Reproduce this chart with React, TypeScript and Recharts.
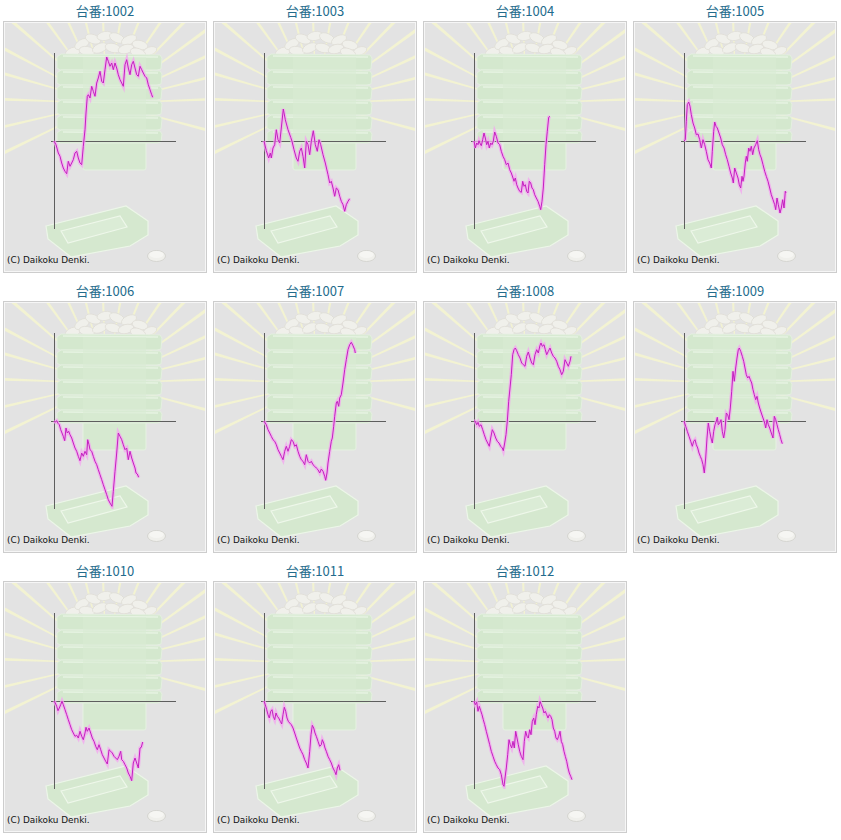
import React from 'react';
import { LineChart, Line, XAxis, YAxis, ReferenceLine } from 'recharts';

type Pt = [number, number];

// Machine numbers shown above each panel
const machineIds = ['1002', '1003', '1004', '1005', '1006', '1007', '1008', '1009', '1010', '1011', '1012'];
const titlePrefix = '台番:';
const copyright = '(C) Daikoku Denki.';

// Each series: [game position, medal balance] pairs (arbitrary units)
const m1002: Pt[] = [[0,0],[2,-3.7],[4.3,-12],[6,-15.3],[7.7,-22],[9.3,-27],[11,-30.3],[12.7,-32.7],[14.3,-20.3],[16,-25.3],[17.7,-22],[19.3,-18.7],[21,-12],[22.7,-10.3],[24.3,-17],[26,-22],[27.7,-23.7],[29.3,-5.3],[31,11.3],[32,28],[33.3,44.7],[34.3,46.3],[36,43],[37.7,54.7],[39.3,49.7],[41,44.7],[42.7,58],[44.3,63],[46,69.7],[47.7,59.7],[49.3,58],[51,71.3],[52.7,84],[54.3,79.7],[56,74.7],[57.7,78],[59.3,71.3],[61,78],[62.7,73],[64.3,66.3],[66,61.3],[67.7,58],[69.3,54.7],[71,76.3],[72.7,81.3],[74.3,73],[76,66.3],[77.7,76.3],[79.3,79.7],[81,73],[82.7,66.3],[84.3,64.7],[86,74.7],[87.7,71.3],[89.3,68],[91,64.7],[92.7,63],[94.3,56.3],[96,51.3],[97.7,46.3],[98.7,43.7]];
const m1003: Pt[] = [[0,0],[2.3,-9.7],[4.7,-17],[6.3,-12],[7.3,-17],[9,-7],[10.7,-3.7],[12.3,11.3],[14,1.3],[15.7,-2],[17.3,13],[19.3,32],[21.3,21.3],[24,11.3],[26.7,3.7],[28,-0.3],[30,-8.7],[32.3,-17],[34,-20.3],[35.7,-10.3],[37.3,-7],[39,-15.3],[40.7,-27],[42.3,-0.3],[44,-3.7],[45.7,-13.7],[47.3,-0.3],[49.3,10.3],[51.3,-3.7],[53.3,-10.3],[55,1.3],[56.7,-3.7],[59,-13.7],[61.3,-22],[64,-33.7],[65.7,-42],[67.3,-40.3],[69,-47],[70.7,-55.3],[72.3,-47],[74,-48.7],[75.7,-55.3],[77.3,-60.3],[79,-63.7],[80.7,-70.3],[82.3,-63.7],[84,-60.3],[85.7,-57.7]];
const m1004: Pt[] = [[0,0],[1.3,-7],[2.7,-2],[4,-3.7],[5,0.3],[6.3,-3],[7.3,-4.7],[8.7,1.3],[10,8],[11.3,3],[12.7,-3.7],[14,-0.3],[15.3,-7],[16.7,-2],[18,-3.7],[19.3,-0.3],[20.7,9],[22.3,4.7],[24,-2],[25.7,-3.7],[27.3,-10.3],[29,-15.3],[30.7,-18.7],[32.3,-23.7],[34,-22],[35.7,-28.7],[37.3,-32],[39,-37],[40,-40.3],[41.3,-37],[42.7,-43.7],[44,-47],[45.7,-50.3],[47.3,-51.3],[48.7,-40.3],[50,-45.3],[51.3,-43.7],[52.7,-50.3],[54,-52],[55.3,-40.3],[56.7,-42],[58,-47],[59.3,-48.7],[60.7,-53.7],[62.3,-57],[64,-60.3],[65.7,-65.3],[66.7,-68.7],[68,-60.3],[69.3,-47],[70.7,-23.7],[72,-3.7],[73.3,9.7],[74.7,23.7],[76,24.7]];
const m1005: Pt[] = [[0,0],[1.3,1.3],[2.3,19.7],[3.3,36.3],[4.7,39],[6,34.7],[7.3,26.3],[9,18],[10.7,13],[12.3,6.3],[14,7],[15.7,1.3],[17.3,-7],[19,1.3],[20.7,-3.7],[22.3,-10.3],[24,-18.7],[25.7,-22],[27.3,-27],[28.3,-10.3],[29.7,9.7],[30.7,19],[32,14.7],[33.3,13],[35,8],[36.7,3],[38.3,-3.7],[40,-7],[41.7,-13.7],[43.3,-18.7],[45,-25.3],[46.7,-32],[48.3,-37],[49.3,-42],[50.7,-27],[52.3,-32],[54,-37],[55.3,-43.7],[56.7,-47],[58,-35.3],[59,-40.3],[60,-35.3],[61.3,-22],[62.3,-15.3],[63.3,-20.3],[64.7,-7],[66,-10.3],[67.3,-5.3],[68.7,-13.7],[70,-7],[71.7,-3.7],[73.3,0.3],[74.7,-8.7],[76,-13.7],[77.3,-17],[79,-23.7],[80.7,-30.3],[82.3,-35.3],[84,-40.3],[85.7,-47],[87.3,-53.7],[89,-58.7],[90.7,-63.7],[91.7,-68.7],[93,-57],[94.3,-63.7],[96,-72],[97.3,-67],[98.7,-58.7],[100,-67],[101.3,-50.3],[102,-52]];
const m1006: Pt[] = [[0,0],[1.3,-1],[2.7,0.3],[4,-2.3],[5.3,-3.7],[6.7,-8.7],[8,-12],[9.3,-15.3],[10.7,-19.7],[12,-7],[13.3,-12],[14.7,-10.3],[16,-13.7],[17.7,-17],[19.3,-22],[21,-27],[22.7,-30.3],[24.3,-35.3],[26,-39.7],[27.7,-32],[29.3,-35.3],[31,-30.3],[32.7,-33.7],[33.7,-18.7],[35,-23.7],[36,-28.7],[37.7,-30.3],[39.3,-35.3],[41,-40.3],[42.7,-43.7],[44.3,-48.7],[46,-53.7],[47.7,-58.7],[49.3,-63.7],[51,-68.7],[52.7,-73.7],[54.3,-78.7],[56,-82],[58,-85.3],[59.3,-70.3],[61,-50.3],[62.7,-32],[64.3,-12],[66,-15.3],[67.7,-18.7],[69.3,-23.7],[71,-28.7],[72.7,-27],[74.3,-38.7],[76,-30.3],[77.7,-37],[79.3,-42],[81,-47],[82,-52],[83.3,-53],[84.7,-56.3]];
const m1007: Pt[] = [[0,0],[2.3,-3.7],[4,-8.7],[5.7,-12],[7.3,-15.3],[9,-18.7],[10.7,-20.3],[12.3,-23.7],[14,-28.7],[15.7,-32],[17.3,-35.3],[19,-38.7],[20.7,-30.3],[22.3,-25.3],[24,-30.3],[25.7,-25.3],[27.3,-18.7],[29,-20.3],[30.7,-25.3],[32.3,-23.7],[34,-30.3],[35.7,-35.3],[37.3,-38.7],[39,-40.3],[40.7,-43.7],[42.3,-33.7],[44,-40.3],[45.7,-42],[47.3,-40.3],[49,-43.7],[50.7,-45.3],[52.3,-47],[54,-48.7],[55.7,-52],[57.3,-48],[59,-50.3],[60.7,-55.3],[61.7,-59.3],[63,-52],[64,-42],[65.7,-30.3],[67.3,-20.3],[68.3,-17],[69.7,-5.3],[70.7,4.7],[72.3,18],[73.3,19.7],[74.7,14.7],[75.7,23],[77.3,26.3],[79,38],[80.7,51.3],[82.3,61.3],[84,71.3],[85.7,76.3],[87.3,78.7],[89,75.3],[90.7,71.3],[91.3,68]];
const m1008: Pt[] = [[0,0],[1.3,-0.3],[2.7,-3.7],[4,-1.3],[5.3,-5.3],[7,-3.7],[8.7,-8.7],[10.3,-13.7],[12,-18.7],[13.7,-22],[15.3,-25.3],[16.7,-17],[18.3,-8.7],[20,-12],[21.7,-17],[23.3,-20.3],[25,-22],[26.7,-25.3],[28.3,-27],[29.3,-29.7],[30.7,-22],[32,-13.7],[33.3,-0.3],[34.7,19.7],[36,33],[37.3,46.3],[38.7,66.3],[40,71.3],[41.3,73],[42.7,70.3],[44.3,66.3],[46,63],[47.7,58],[49.3,56.3],[51,54.7],[52.7,64.7],[54.3,69],[56,63],[57.7,58],[59.3,56.3],[61,66.3],[62.7,71.3],[64.3,68],[66,75.7],[67,78],[68.3,74.7],[70,76.3],[71.3,71.3],[72.7,66.3],[74.3,69.7],[76,73],[77.7,68],[79.3,64.7],[81,63],[82.7,59.7],[84.3,54.7],[86,51.3],[87.7,46.3],[89.3,49.7],[91,61.3],[92.7,58],[94.3,54.7],[96,59.7],[97,64.7]];
const m1009: Pt[] = [[0,0],[1.7,-5.3],[3.3,-10.3],[5,-15.3],[6.7,-20.3],[8.3,-25.3],[9.7,-20.3],[11,-18.7],[12.3,-23.7],[13.7,-27],[15,-32],[16.3,-35.3],[17.7,-38.7],[19,-43.7],[20.3,-52],[21.7,-37],[23,-17],[24.3,-2],[25.7,-10.3],[27,-17],[28.3,-22],[29.7,-10.3],[31,-3.7],[32.3,-0.3],[33.3,3.7],[34.3,-3.7],[35.7,-2],[37,1.3],[38.3,-10.3],[39.7,-17],[41,-8.7],[42.3,8],[43.7,6.3],[45,1.3],[46.3,13],[47.7,29.7],[49,49.7],[50.3,39.7],[51.7,53],[53,63],[54.3,71.3],[55.3,73],[56.7,69.7],[58.3,64.7],[59.7,59.7],[61,53],[62.3,46.3],[63.7,43],[65,44.7],[66.3,41.3],[67.7,38],[69,31.3],[70.3,26.3],[71.7,21.3],[73,24.7],[74.3,18],[75.7,13],[77.3,8],[79,3],[80.7,-2],[81.7,-7],[83,1.3],[84.3,-3.7],[85.7,-7],[87.3,-12],[89,-17],[90.3,4.7],[91.7,1.3],[93,-3.7],[94.3,-8.7],[95.7,-13.7],[97,-18.7],[98.3,-22.7]];
const m1010: Pt[] = [[0,0],[1.3,-2],[2.7,-5.3],[4,-9.7],[5.3,-7],[6.7,-3.7],[8,-0.3],[9.3,-3.7],[11,-8.7],[12.7,-13.7],[14.3,-18.7],[16,-23.7],[17.7,-28.7],[19.3,-32],[21,-35.3],[22.7,-34.3],[24.3,-37],[26,-30.3],[27.7,-35.3],[29.3,-38.7],[31,-32],[32,-26.3],[33.3,-30.3],[35,-27],[36.7,-32],[38.3,-37],[40,-40.3],[41.7,-45.3],[43.3,-48.7],[45,-43.7],[46.7,-48.7],[48.3,-53.7],[50,-57],[51.7,-60.3],[53.3,-63],[55,-48.7],[56.7,-50.3],[58.3,-52],[60,-55.3],[61.7,-57],[63.3,-58.7],[65,-55.3],[66.7,-50.3],[67.7,-58.7],[69.3,-60.3],[71,-63.7],[72.7,-67],[74.3,-72],[76,-75.3],[77.7,-79.7],[79.3,-62],[81,-57],[82.7,-62],[84.3,-67],[86,-47],[87.3,-46.3],[88.7,-41]];
const m1011: Pt[] = [[0,0],[1.3,-3.7],[2.7,-8.7],[4,-13.7],[5.3,-17],[6.7,-10.3],[8,-8.7],[9.3,-15.3],[10.7,-18.7],[12,-12],[13.3,-15.3],[14.7,-17],[16.3,-20.3],[17.7,-23],[19,-13.7],[20.3,-6.3],[21.7,-10.3],[23,-17],[24.3,-20.3],[25.7,-22],[27.3,-23.7],[29,-27],[30.7,-32],[32.3,-37],[34,-42],[35.7,-47],[37.3,-50.3],[39,-53.7],[40.7,-58.7],[42.3,-62],[44,-67],[45.7,-50.3],[47,-33.7],[48.3,-24.3],[49.7,-27],[51,-32],[52.3,-35.3],[54,-40.3],[55.7,-45.3],[57.3,-43.7],[58.3,-38.7],[59.7,-42],[61,-47],[62.3,-50.3],[64,-55.3],[65.7,-58.7],[67.3,-62],[69,-67],[70.7,-70.3],[72,-73.7],[73.3,-67],[74.7,-63.7],[76,-69.3]];
const m1012: Pt[] = [[0,0],[1.3,-3.7],[2.7,-1],[4,-10.3],[5.3,-5.3],[6.7,-9.7],[8,-13.7],[9.3,-18.7],[10.7,-23.7],[12.3,-30.3],[14,-37],[15.7,-43.7],[17.3,-50.3],[19,-55.3],[20.7,-60.3],[22.3,-63.7],[24,-67],[25.7,-68.7],[27.3,-73.7],[29,-83.7],[30,-85.3],[31,-77],[32.3,-67],[33.7,-53.7],[35,-38.7],[36.3,-43.7],[37.7,-47],[39,-40.3],[40.3,-47],[41.7,-30.3],[43,-37],[44.3,-43.7],[45.7,-50.3],[47.3,-55.3],[49,-58.7],[50.3,-40.3],[51.7,-30.3],[53,-35.3],[54.3,-37],[55.7,-28.7],[57,-33.7],[58.3,-20.3],[59.7,-17],[61,-23.7],[62.3,-13.7],[63.7,-5.3],[65,-7],[66,-0.3],[67.3,-3.7],[68.7,-7],[70,-12],[71.3,-10.3],[72.7,-13.7],[74,-17],[75.3,-13.7],[76.7,-15.3],[78,-18.7],[79.3,-27],[80.7,-30.3],[82,-37],[83.3,-38.7],[84.7,-35.3],[86,-30.3],[87.3,-40.3],[88.7,-43.7],[90,-50.3],[91.3,-55.3],[92.7,-60.3],[94,-67],[95.3,-72],[96.7,-75.3],[98,-78.7]];

const seriesList: Pt[][] = [m1002, m1003, m1004, m1005, m1006, m1007, m1008, m1009, m1010, m1011, m1012];

const X_DOMAIN: [number, number] = [-3, 122];
const Y_DOMAIN: [number, number] = [-88, 88];

const PANEL_W = 204;
const PANEL_H = 252;
const COLS = 4;

// decorative background ray directions (degrees)
const rayAngles = [-15, 2, 14, 25, 36, 46, 56, 68, 80, 92, 104, 115, 126, 139, 152, 164, 178, 193, 206];

const medals: [number, number, number, number, number][] = [
  [70, 31, 8, 4.5, -20], [79, 23, 8, 4.5, -30], [90, 18, 8, 4.5, 20], [102, 15, 8, 4.5, -10], [114, 17, 8, 4.5, 25],
  [126, 19, 8, 4.5, -25], [137, 24, 8, 4.5, 15], [147, 30, 7, 4, -20], [84, 30, 8, 4.5, 10], [97, 27, 8, 4.5, -25],
  [110, 27, 8, 4.5, 15], [123, 28, 8, 4.5, -15], [135, 32, 8, 4.5, 20], [66, 38, 7, 4, 10], [150, 38, 6, 4, -10],
];

const trayBands: [number, number][] = [[33, 16], [49, 15], [64, 15], [79, 15], [94, 15], [109, 13]];

function Background({ uid }: { uid: string }) {
  const cx = 103;
  const cy = 82;
  const clipId = `clip-${uid}`;
  return (
    <svg width={PANEL_W} height={PANEL_H} style={{ position: 'absolute', left: 0, top: 0 }}>
      <defs>
        <clipPath id={clipId}>
          <rect x={2} y={2} width={PANEL_W - 4} height={PANEL_H - 4} />
        </clipPath>
      </defs>
      <rect x={0.5} y={0.5} width={PANEL_W - 1} height={PANEL_H - 1} fill="#e3e3e3" stroke="#cdcdcd" />
      <rect x={1.5} y={1.5} width={PANEL_W - 3} height={PANEL_H - 3} fill="none" stroke="#f6f6f6" />
      <g clipPath={`url(#${clipId})`}>
        {rayAngles.map((a, i) => {
          const rad = (a * Math.PI) / 180;
          const dx = Math.cos(rad);
          const dy = -Math.sin(rad);
          const nx = -dy;
          const ny = dx;
          const r1 = 42;
          const r2 = 175;
          const w1 = 0.6;
          const w2 = 2.3;
          const p = [
            [cx + dx * r1 + nx * w1, cy + dy * r1 + ny * w1],
            [cx + dx * r2 + nx * w2, cy + dy * r2 + ny * w2],
            [cx + dx * r2 - nx * w2, cy + dy * r2 - ny * w2],
            [cx + dx * r1 - nx * w1, cy + dy * r1 - ny * w1],
          ];
          return <polygon key={i} points={p.map((q) => q.join(',')).join(' ')} fill="#f3f3d2" />;
        })}
        {medals.map((m, i) => (
          <ellipse key={`m${i}`} cx={m[0]} cy={m[1]} rx={m[2]} ry={m[3]} transform={`rotate(${m[4]} ${m[0]} ${m[1]})`} fill="#f0f0eb" stroke="#e0ded7" strokeWidth={0.8} />
        ))}
        <rect x={80} y={118} width={63} height={31} rx={2} fill="#d6e9d0" stroke="#e6f2e2" />
        {trayBands.map((b, i) => (
          <g key={`t${i}`}>
            <polygon
              points={`54,${b[0] + 3} 58,${b[0]} 157,${b[0] + 1} 159,${b[0] + 4} 158,${b[0] + b[1] - 1} 154,${b[0] + b[1]} 57,${b[0] + b[1]} 54,${b[0] + b[1] - 2}`}
              fill="#d4e8ce"
              stroke="#e4f0e0"
              strokeWidth={1}
            />
            <line x1={60} y1={b[0] + 2} x2={155} y2={b[0] + 3} stroke="#e6f3e2" strokeWidth={1.5} />
          </g>
        ))}
        <rect x={80} y={36} width={63} height={84} fill="#d9ebd4" opacity={0.6} />
        <polygon points="43,205 123,185 145,200 145,214 127,225 68,236 45,218" fill="#d5e8cf" stroke="#ecf6e8" strokeWidth={1.2} />
        <polygon points="58,210 117,195 124,206 65,222" fill="#dbecd6" stroke="#eef7ea" strokeWidth={1.2} />
        <ellipse cx={153.5} cy={235} rx={9} ry={5.5} fill="#f0f0ec" stroke="#cfcfca" strokeWidth={0.8} />
        <ellipse cx={153.5} cy={233.5} rx={7} ry={3.5} fill="#f6f6f3" />
      </g>
      <text x={4} y={242} fontFamily="DejaVu Sans, Verdana, sans-serif" fontSize={8.9} fill="#111">
        {copyright}
      </text>
    </svg>
  );
}

function Panel({ id, pts, left, top }: { id: string; pts: Pt[]; left: number; top: number }) {
  const data = pts.map(([x, y]) => ({ x, y }));
  return (
    <>
      <div
        style={{
          position: 'absolute',
          left,
          top: top - 21,
          width: PANEL_W,
          height: 21,
          lineHeight: '21px',
          textAlign: 'center',
          fontFamily: '"Noto Sans CJK JP", "Noto Sans", sans-serif',
          fontSize: 13,
          color: '#236b8c',
        }}
      >
        {titlePrefix + id}
      </div>
      <div style={{ position: 'absolute', left, top, width: PANEL_W, height: PANEL_H }}>
        <Background uid={id} />
        <LineChart
          width={PANEL_W}
          height={PANEL_H}
          data={data}
          margin={{ top: 32, right: 31, bottom: 44, left: 48 }}
          style={{ position: 'absolute', left: 0, top: 0 }}
        >
          <XAxis type="number" dataKey="x" domain={X_DOMAIN} hide allowDataOverflow />
          <YAxis type="number" domain={Y_DOMAIN} hide allowDataOverflow />
          <ReferenceLine y={0} stroke="#5e5e5e" strokeWidth={1} shapeRendering="crispEdges" />
          <ReferenceLine x={0} stroke="#5e5e5e" strokeWidth={1} shapeRendering="crispEdges" />
          <Line type="linear" dataKey="y" stroke="#f3a8ef" strokeOpacity={0.8} strokeWidth={3.4} dot={false} isAnimationActive={false} />
          <Line type="linear" dataKey="y" stroke="#c41fc0" strokeWidth={1} dot={false} isAnimationActive={false} />
        </LineChart>
      </div>
    </>
  );
}

export default function App() {
  return (
    <div style={{ position: 'absolute', left: 0, top: 0, width: 841, height: 840, background: '#ffffff' }}>
      {machineIds.map((id, i) => {
        const c = i % COLS;
        const r = Math.floor(i / COLS);
        return <Panel key={id} id={id} pts={seriesList[i]} left={3 + 210 * c} top={21 + 280 * r} />;
      })}
    </div>
  );
}
